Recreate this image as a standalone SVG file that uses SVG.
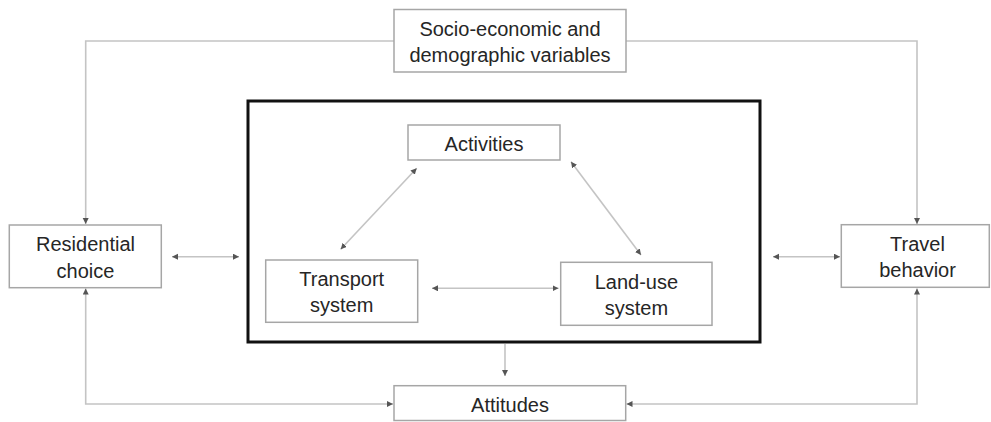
<svg xmlns="http://www.w3.org/2000/svg" width="991" height="422" viewBox="0 0 991 422">
<style>
.box{fill:#fff;stroke:#a6a6a6;stroke-width:1.5}
.t{font-family:"Liberation Sans",Arial,sans-serif;font-size:20px;fill:#262626;text-anchor:middle}
.c{fill:none;stroke:#c4c4c4;stroke-width:1.6}
.a1{marker-end:url(#ah)}
.a2{marker-start:url(#ah);marker-end:url(#ah)}
</style>
<defs>
<marker id="ah" markerUnits="userSpaceOnUse" markerWidth="8" markerHeight="8" refX="6" refY="3" orient="auto-start-reverse">
<path d="M0,0 L6,3 L0,6 Z" fill="#555"/>
</marker>
</defs>
<rect width="991" height="422" fill="#fff"/>
<g id="connectors">
<polyline class="c a1" points="394,41 85.7,41 85.7,224"/>
<polyline class="c a1" points="626,41 917,41 917,224"/>
<line class="c a2" x1="172" y1="256.7" x2="239" y2="256.7"/>
<line class="c a2" x1="773" y1="256.7" x2="840" y2="256.7"/>
<line class="c a2" x1="432" y1="288.3" x2="558.5" y2="288.3"/>
<line class="c a2" x1="416.7" y1="168.3" x2="340.7" y2="249.3"/>
<line class="c a2" x1="571" y1="161.7" x2="641" y2="255"/>
<line class="c a1" x1="505" y1="344" x2="505" y2="376"/>
<polyline class="c a2" points="85.7,288.5 85.7,404 393,404"/>
<polyline class="c a2" points="917,288.5 917,404 626.5,404"/>
</g>
<g id="system">
<rect x="248" y="101" width="512" height="241" fill="none" stroke="#111" stroke-width="3"/>
</g>
<g id="socio">
<rect class="box" x="394" y="9.5" width="232" height="62.5"/>
<text class="t" x="510" y="36">Socio-economic and</text>
<text class="t" x="510" y="62">demographic variables</text>
</g>
<g id="activities">
<rect class="box" x="408" y="125" width="152" height="35"/>
<text class="t" x="484" y="151">Activities</text>
</g>
<g id="residential">
<rect class="box" x="9.3" y="225" width="152" height="62.7"/>
<text class="t" x="85.5" y="251">Residential</text>
<text class="t" x="85.5" y="277.5">choice</text>
</g>
<g id="transport">
<rect class="box" x="265.7" y="260" width="152" height="62.3"/>
<text class="t" x="341.7" y="285.7">Transport</text>
<text class="t" x="341.7" y="311.7">system</text>
</g>
<g id="landuse">
<rect class="box" x="560.7" y="262.3" width="151.3" height="63"/>
<text class="t" x="636.4" y="288.7">Land-use</text>
<text class="t" x="636.4" y="315">system</text>
</g>
<g id="travel">
<rect class="box" x="841.3" y="224.7" width="148" height="62.6"/>
<text class="t" x="917.5" y="251.3">Travel</text>
<text class="t" x="917.5" y="277.3">behavior</text>
</g>
<g id="attitudes">
<rect class="box" x="394" y="385.7" width="231.7" height="34.8"/>
<text class="t" x="510" y="411.7">Attitudes</text>
</g>
</svg>
